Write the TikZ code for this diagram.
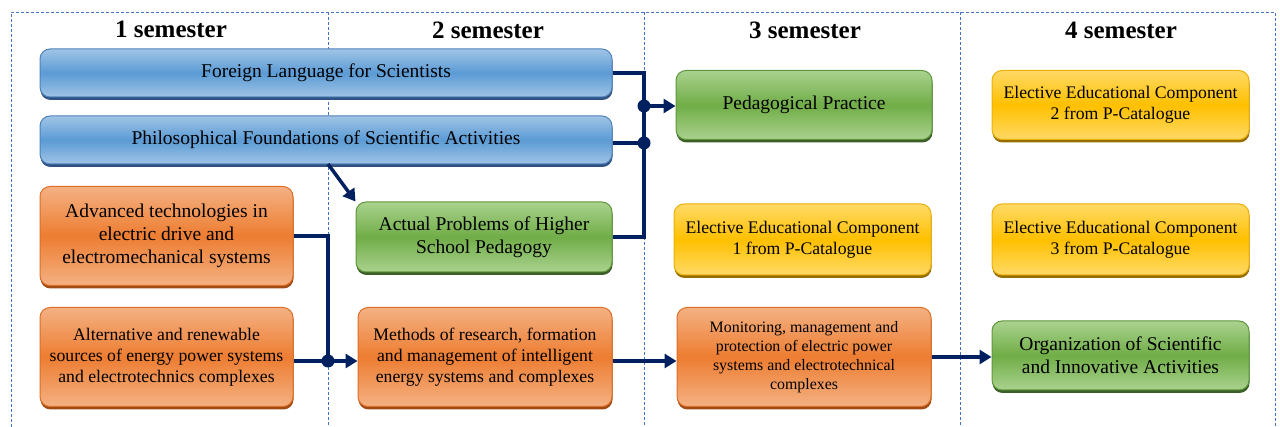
\documentclass[tikz,border=0pt]{standalone}
\usepackage{fontspec}
\setmainfont{Liberation Serif}
\usetikzlibrary{arrows.meta,shadows}

\definecolor{bluetop}{RGB}{160,196,230}
\definecolor{bluemid}{RGB}{91,155,213}
\definecolor{blueedge}{RGB}{80,130,185}
\definecolor{blueshade}{RGB}{47,82,130}
\definecolor{greentop}{RGB}{170,210,142}
\definecolor{greenmid}{RGB}{112,173,71}
\definecolor{greenedge}{RGB}{95,150,60}
\definecolor{greenshade}{RGB}{60,95,40}
\definecolor{orangetop}{RGB}{244,177,131}
\definecolor{orangemid}{RGB}{237,125,49}
\definecolor{orangeedge}{RGB}{220,110,40}
\definecolor{orangeshade}{RGB}{160,75,20}
\definecolor{yellowtop}{RGB}{255,217,102}
\definecolor{yellowmid}{RGB}{255,192,0}
\definecolor{yellowedge}{RGB}{235,175,10}
\definecolor{yellowshade}{RGB}{150,110,0}
\definecolor{flowline}{RGB}{0,32,96}
\definecolor{gridline}{RGB}{68,114,196}

\tikzset{
  course/.style={rounded corners=10pt, line width=1pt, align=center, inner sep=0pt,
    font=\fontsize{19.5}{23}\selectfont},
  midfont/.style={font=\fontsize{17.7}{21}\selectfont},
  smallfont/.style={font=\fontsize{15.9}{19}\selectfont},
  bluebox/.style={course, draw=blueedge, top color=bluetop, bottom color=bluetop,
    middle color=bluemid, drop shadow={shadow xshift=0.5pt, shadow yshift=-3pt, fill=blueshade, opacity=1}},
  greenbox/.style={course, draw=greenedge, top color=greentop, bottom color=greentop,
    middle color=greenmid, drop shadow={shadow xshift=0.5pt, shadow yshift=-3pt, fill=greenshade, opacity=1}},
  orangebox/.style={course, draw=orangeedge, top color=orangetop, bottom color=orangetop,
    middle color=orangemid, drop shadow={shadow xshift=0.5pt, shadow yshift=-3pt, fill=orangeshade, opacity=1}},
  yellowbox/.style={course, draw=yellowedge, top color=yellowtop, bottom color=yellowtop,
    middle color=yellowmid, drop shadow={shadow xshift=0.5pt, shadow yshift=-3pt, fill=yellowshade, opacity=1}},
  semester/.style={font=\fontsize{25}{28}\bfseries\selectfont},
  flow/.style={draw=flowline, line width=3.5pt},
  flowarrow/.style={flow, -{Triangle[length=12pt,width=14pt]}},
  junction/.style={circle, fill=flowline, inner sep=0pt, minimum size=13pt},
  grid/.style={gridline, line width=0.8pt, dash pattern=on 3pt off 2pt},
}

\begin{document}
\begin{tikzpicture}[x=1pt,y=-1pt]
  \useasboundingbox (0,0) rectangle (1280,427);

  % semester columns
  \draw[grid] (11,427) -- (11,12) -- (1275,12) -- (1275,427);
  \foreach \xcol in {328,644,960}
    \draw[grid] (\xcol,12) -- (\xcol,427);

  \node[semester] (sem1) at (171,29) {1 semester};
  \node[semester] (sem2) at (488,30) {2 semester};
  \node[semester] (sem3) at (805,30) {3 semester};
  \node[semester] (sem4) at (1121,30) {4 semester};

  % courses
  \node[bluebox, minimum width=572pt, minimum height=48pt] (lang) at (326,73)
    {Foreign Language for Scientists};
  \node[bluebox, minimum width=572pt, minimum height=48pt] (philo) at (326,140)
    {Philosophical Foundations of Scientific Activities};
  \node[orangebox, minimum width=253pt, minimum height=99pt] (adv) at (166.5,236)
    {Advanced technologies in\\electric drive and\\electromechanical systems};
  \node[orangebox, midfont, minimum width=253pt, minimum height=99pt] (alt) at (166.5,357)
    {Alternative and renewable\\sources of energy power systems\\and electrotechnics complexes};
  \node[greenbox, minimum width=256pt, minimum height=70pt] (actual) at (484,237)
    {Actual Problems of Higher\\School Pedagogy};
  \node[orangebox, midfont, minimum width=254pt, minimum height=99pt] (methods) at (485,357)
    {Methods of research, formation\\and management of intelligent\\energy systems and complexes};
  \node[greenbox, minimum width=256pt, minimum height=69pt] (pedpr) at (804,105)
    {Pedagogical Practice};
  \node[yellowbox, midfont, minimum width=257pt, minimum height=71pt] (elec1) at (802.5,239.5)
    {Elective Educational Component\\1 from P-Catalogue};
  \node[orangebox, smallfont, minimum width=254pt, minimum height=99pt] (monit) at (804,357)
    {Monitoring, management and\\protection of electric power\\systems and electrotechnical\\complexes};
  \node[yellowbox, midfont, minimum width=257pt, minimum height=69pt] (elec2) at (1120.5,105)
    {Elective Educational Component\\2 from P-Catalogue};
  \node[yellowbox, midfont, minimum width=257pt, minimum height=71pt] (elec3) at (1120.5,239.5)
    {Elective Educational Component\\3 from P-Catalogue};
  \node[greenbox, minimum width=257pt, minimum height=69pt] (org) at (1120.5,355.5)
    {Organization of Scientific\\and Innovative Activities};

  % links
  \node[junction] (j1) at (644,106) {};
  \node[junction] (j2) at (644,143) {};
  \node[junction] (j3) at (328,361) {};
  \coordinate (c1) at (644,73);
  \coordinate (c2) at (328,236);
  \coordinate (p1) at (328,164);

  \draw[flow] (lang.east) -- (c1) -- (j1.center) -- (j2.center) |- (actual.east);
  \draw[flow] (philo.east |- j2) -- (j2.center);
  \draw[flowarrow] (j1.center) -- (pedpr.west |- j1);
  \draw[flowarrow] (p1) -- (actual.north west);
  \draw[flow] (adv.east) -- (c2) -- (j3.center);
  \draw[flowarrow] (alt.east |- j3) -- (methods.west |- j3);
  \draw[flowarrow] (methods.east |- j3) -- (monit.west |- j3);
  \draw[flowarrow] (monit.east) -- (org.west |- monit.east);
\end{tikzpicture}
\end{document}
